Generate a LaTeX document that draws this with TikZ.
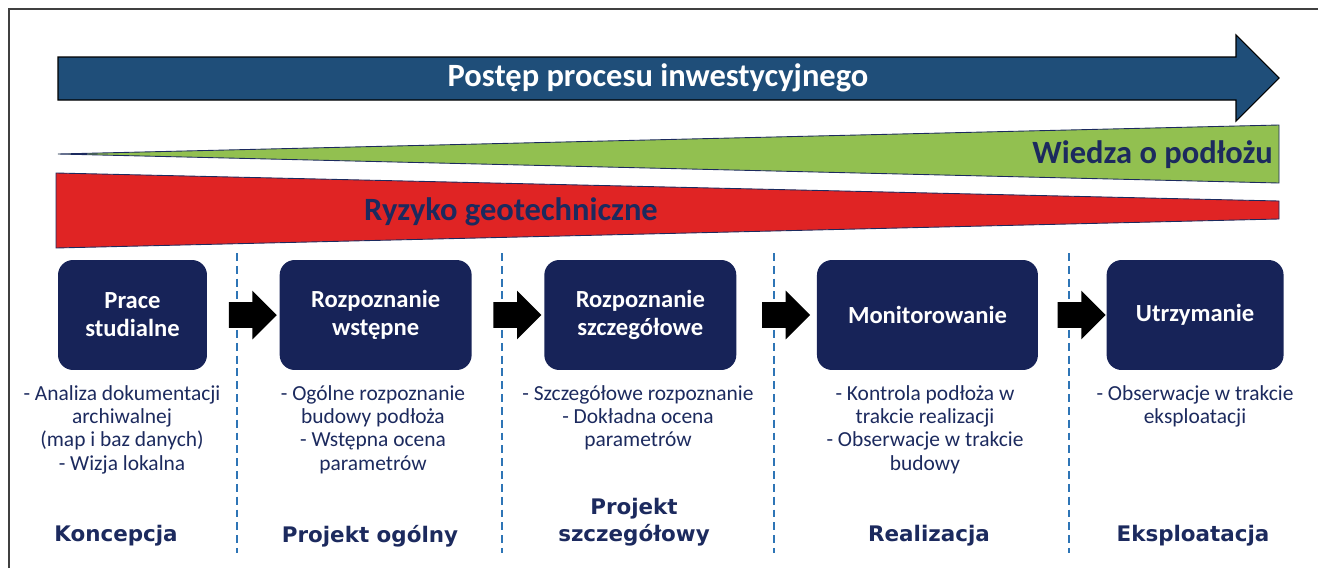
\documentclass[tikz,border=0pt]{standalone}
\usepackage{fontspec}
\setmainfont{Carlito}
\newfontfamily\phasefont{DejaVu Sans}
\usetikzlibrary{shapes.arrows,positioning,calc}

\definecolor{progblue}{HTML}{1F4E79}
\definecolor{knowgreen}{HTML}{92C050}
\definecolor{riskred}{HTML}{E02424}
\definecolor{stagenavy}{HTML}{172358}
\definecolor{textnavy}{HTML}{1C2A5E}
\definecolor{sepblue}{HTML}{2E75B6}

\begin{document}
\begin{tikzpicture}[
    x=0.02cm, y=-0.02cm,
    node distance=1.44cm,
    stage/.style={rectangle, rounded corners=0.3cm, fill=stagenavy, text=white, minimum height=2.2cm, inner sep=0pt, align=center, font=\fontsize{14}{16}\selectfont\bfseries},
    desc/.style={anchor=north, align=center, inner sep=0pt, text=textnavy, font=\fontsize{12.2}{13.3}\selectfont},
    phase/.style={align=center, inner sep=0pt, text=textnavy, font=\phasefont\fontsize{12.2}{15.3}\selectfont\bfseries},
    blockarrow/.style={single arrow, fill=black, minimum height=0.96cm, inner xsep=0pt, inner ysep=0.25cm, single arrow head extend=0.23cm},
    banner/.style={text=textnavy, font=\fontsize{18.5}{22}\selectfont\bfseries, inner sep=0pt},
    wedge/.style={draw=textnavy, line width=0.5pt}
]
    \useasboundingbox (0,0) rectangle (1318,568);
    % frame
    \draw[black!75, line width=0.8pt] (9,568) -- (9,9) -- (1318,9);

    % progress arrow and wedges
    \draw[fill=progblue, line width=0.6pt] (58,57) -- (1236,57) -- (1236,35) -- (1279,78) -- (1236,121) -- (1236,100) -- (58,100) -- cycle;
    \node[banner, text=white] (progress) at (658,78) {Postęp procesu inwestycyjnego};
    \draw[wedge, fill=knowgreen] (58,154) -- (1279,125) -- (1279,183) -- cycle;
    \node[banner, anchor=east] (knowledge) at (1273,155) {Wiedza o podłożu};
    \draw[wedge, fill=riskred] (56,173) -- (1279,201) -- (1279,219) -- (56,248) -- cycle;
    \node[banner] (risk) at (511,212) {Ryzyko geotechniczne};

    % separators
    \foreach \sx in {237,502,774,1069}
        \draw[sepblue, line width=1.4pt, dash pattern=on 4.5pt off 2.8pt] (\sx,253) -- (\sx,553);

    % stages
    \node[stage, minimum width=2.98cm] (s1) at (132.5,315) {Prace\\studialne};
    \node[stage, minimum width=3.84cm, right=of s1] (s2) {Rozpoznanie\\wstępne};
    \node[stage, minimum width=3.84cm, right=of s2] (s3) {Rozpoznanie\\szczegółowe};
    \node[stage, minimum width=4.42cm, right=1.6cm of s3] (s4) {Monitorowanie};
    \node[stage, minimum width=3.54cm, right=1.36cm of s4] (s5) {Utrzymanie};

    \foreach \a/\b in {s1/s2,s2/s3,s3/s4,s4/s5}
        \node[blockarrow, xshift=0.06cm] (arr-\a) at ($(\a.east)!0.5!(\b.west)$) {};

    % descriptions
    \node[desc] (d1) at (122,385) {- Analiza dokumentacji\\archiwalnej\\(map i baz danych)\\- Wizja lokalna};
    \node[desc] (d2) at (373,385) {- Ogólne rozpoznanie\\budowy podłoża\\- Wstępna ocena\\parametrów};
    \node[desc] (d3) at (638,385) {- Szczegółowe rozpoznanie\\- Dokładna ocena\\parametrów};
    \node[desc] (d4) at (925,385) {- Kontrola podłoża w\\trakcie realizacji\\- Obserwacje w trakcie\\budowy};
    \node[desc] (d5) at (1195,385) {- Obserwacje w trakcie\\eksploatacji};

    % phases
    \node[phase] (p1) at (116,536) {Koncepcja};
    \node[phase] (p2) at (370,536) {Projekt ogólny};
    \node[phase] (p3) at (634,522.5) {Projekt\\szczegółowy};
    \node[phase] (p4) at (929,536) {Realizacja};
    \node[phase] (p5) at (1193,536) {Eksploatacja};
\end{tikzpicture}
\end{document}
